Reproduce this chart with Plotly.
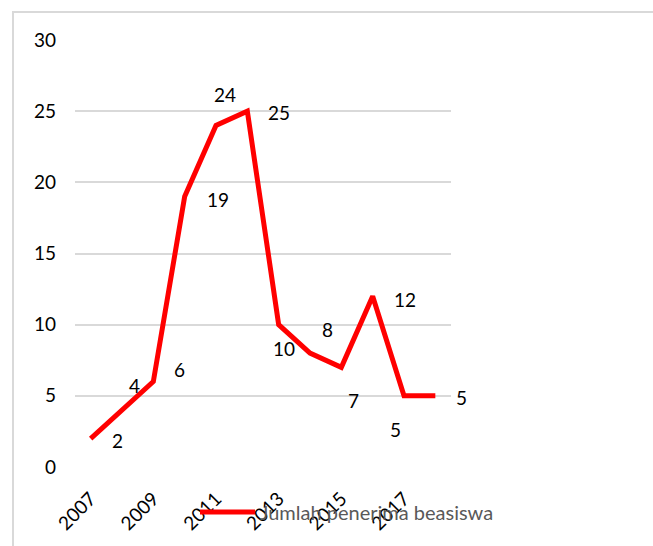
import plotly.graph_objects as go

years = [2007, 2008, 2009, 2010, 2011, 2012, 2013, 2014, 2015, 2016, 2017, 2018]
values = [2, 4, 6, 19, 24, 25, 10, 8, 7, 12, 5, 5]
series_name = "Jumlah penerima beasiswa"
tick_years = [2007, 2009, 2011, 2013, 2015, 2017]

# label offsets (px) relative to each point, mimicking the original placement
label_dx = [27, 12, 26, 33, 9, 32, 5, 17, 12, 32, -9, 26]
label_dy = [-2, 25, 12, -3, 31, -1, -24, 24, -33, -3, -34, -2]

FONT = "Lato"
FS = 19
L, R, T, B = 75, 202, 40, 79
W, H = 653, 546
PW = W - L - R
PH = H - T - B

fig = go.Figure()
fig.add_trace(go.Scatter(
    x=years, y=values, mode="lines", name=series_name,
    line=dict(color="#FF0000", width=5), showlegend=False,
))

for x, y, dx, dy in zip(years, values, label_dx, label_dy):
    fig.add_annotation(x=x, y=y, text=str(y), showarrow=False,
                       xshift=dx, yshift=dy,
                       font=dict(family=FONT, size=FS, color="#000000"))

def px_x(p):
    return (p - L) / PW

def px_y(p):
    return (H - B - p) / PH

# outer chart border
fig.add_shape(type="rect", xref="paper", yref="paper",
              x0=px_x(13), x1=px_x(700), y0=px_y(12), y1=px_y(600),
              line=dict(color="#D9D9D9", width=2), layer="below")

# legend (manual)
fig.add_shape(type="line", xref="paper", yref="paper",
              x0=px_x(200), x1=px_x(255), y0=px_y(512), y1=px_y(512),
              line=dict(color="#FF0000", width=5))
fig.add_annotation(xref="paper", yref="paper", x=px_x(258), y=px_y(512),
                   xanchor="left", yanchor="middle", showarrow=False,
                   text=series_name,
                   font=dict(family=FONT, size=FS + 1, color="#595959"))

fig.update_layout(
    width=W, height=H,
    margin=dict(l=L, r=R, t=T, b=B),
    paper_bgcolor="white", plot_bgcolor="white",
    font=dict(family=FONT, size=FS, color="#000000"),
    showlegend=False,
)
fig.update_xaxes(range=[2006.5, 2018.5], tickvals=tick_years,
                 ticktext=[str(t) for t in tick_years], tickangle=-45,
                 showgrid=False, zeroline=False, showline=False,
                 ticks="", ticklabelstandoff=16,
                 tickfont=dict(family=FONT, size=FS, color="#000000"))
fig.update_yaxes(range=[0, 30], dtick=5, showgrid=True,
                 gridcolor="#D9D9D9", gridwidth=1.5,
                 zeroline=False, showline=False, ticks="",
                 ticklabelstandoff=18,
                 tickfont=dict(family=FONT, size=FS, color="#000000"))

fig.write_html("out.html")
